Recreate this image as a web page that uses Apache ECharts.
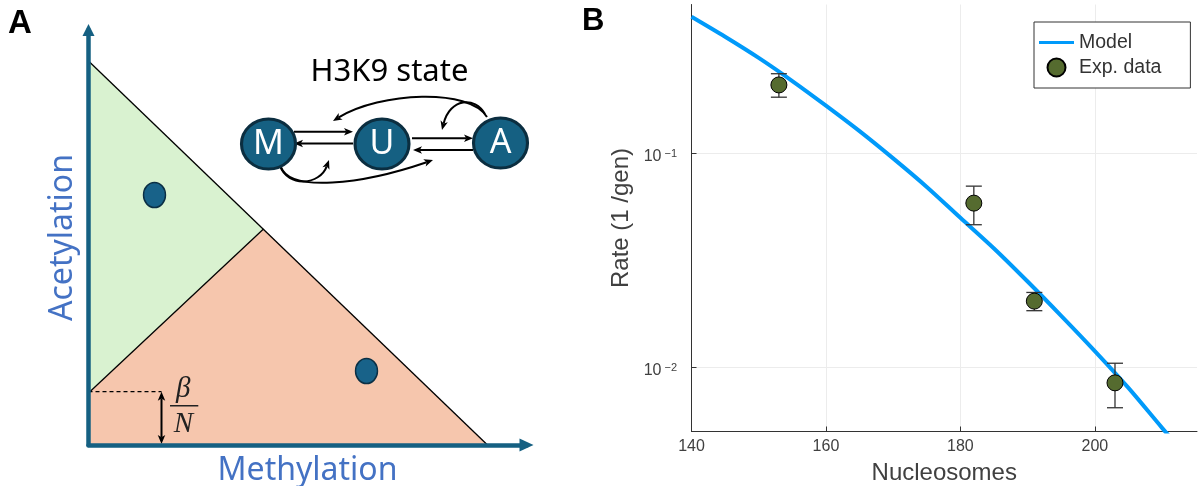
<!DOCTYPE html>
<html><head><meta charset="utf-8">
<script src="https://cdn.jsdelivr.net/npm/echarts@6/dist/echarts.min.js"></script>
<style>html,body{margin:0;padding:0;background:#fff}#c{width:1198px;height:486px}</style>
</head><body><div id="c"></div><script>
// ---------- Panel B data ----------
const nucleosomes = [153, 182, 191, 203];
const expRate = [0.210, 0.0587, 0.0204, 0.00845];
const expLow = [0.184, 0.0465, 0.0184, 0.00646];
const expHigh = [0.237, 0.0705, 0.0224, 0.01044];
const modelX = [140, 145, 150, 155, 160, 165, 170, 175, 180, 185, 190, 195, 200, 205, 210, 212];
const modelY = [0.438, 0.353, 0.281, 0.219, 0.168, 0.1276, 0.0951, 0.0699, 0.0501, 0.036, 0.0252, 0.0174, 0.0119, 0.0080, 0.0052, 0.0044];
const xTicks = [140, 160, 180, 200];
const yTicks = [0.01, 0.1];
const yTickExponents = ['\u22122', '\u22121'];

// ---------- Panel A schematic data (schematic units) ----------
const greenRegion = [[0, 384], [175, 216], [0, 52]];
const orangeRegion = [[0, 52], [175, 216], [399, 0], [0, 0]];
const boundaryLine = [[0, 384], [399, 0]];
const dividerLine = [[0, 52], [175, 216]];
const thresholdLine = [[0, 53.3], [73, 53.3]];
const fractionBar = [[81.5, 39.3], [109.8, 39.3]];
const fixedPoints = [[66, 250], [278, 74]];
const nodeNames = ['M', 'U', 'A'];
const nodePos = [[180, 301], [293.5, 301], [412, 302]];
const arrowPaths = [
  [205.5, 313.3, 205.5, 313.3, 205.5, 313.3, 264.5, 313.3],
  [264.5, 301.5, 264.5, 301.5, 264.5, 301.5, 205.5, 301.5],
  [323.5, 306.7, 323.5, 306.7, 323.5, 306.7, 384.5, 306.7],
  [384.5, 295, 384.5, 295, 384.5, 295, 324.5, 295],
  [398.5, 328, 381.5, 357, 291.5, 353, 244.5, 324],
  [396.5, 331, 386.5, 349, 361.5, 347, 353.5, 315],
  [191.5, 279, 199.5, 257, 231.5, 260, 240.5, 285],
  [192.5, 278, 201.5, 253, 271.5, 260, 344.5, 285],
  [73, 27, 73, 27, 73, 27, 73, 53.3],
  [73, 27, 73, 27, 73, 27, 73, 1]
];
const textLabels = [
  { text: 'H3K9 state', pos: [301, 373] }
];
const fracLabels = [
  { text: '\u03b2', pos: [94.8, 56] },
  { text: 'N', pos: [94.8, 20.5] }
];

const SANS_A = '"Noto Sans", sans-serif';
const SANS_B = '"Liberation Sans", Arial, sans-serif';
const TEAL = '#156082';

function regionRenderer(vertices, color) {
  return function (params, api) {
    if (params.dataIndex !== 0) return;
    return { type: 'polygon', shape: { points: vertices.map(v => api.coord(v)) }, style: { fill: color } };
  };
}

function renderArrow(params, api) {
  const a = arrowPaths[params.dataIndex];
  const p = [0, 1, 2, 3].map(k => api.coord([a[2 * k], a[2 * k + 1]]));
  let dx = p[3][0] - p[2][0], dy = p[3][1] - p[2][1];
  if (Math.hypot(dx, dy) < 1e-6) { dx = p[3][0] - p[0][0]; dy = p[3][1] - p[0][1]; }
  const L = Math.hypot(dx, dy); dx /= L; dy /= L;
  const len = 9, w = 7.5;
  const nx = -dy, ny = dx;
  const tip = p[3];
  const bx = tip[0] - dx * len, by = tip[1] - dy * len;
  const nX = tip[0] - dx * len * 0.75, nY = tip[1] - dy * len * 0.75;
  return {
    type: 'group', children: [
      { type: 'bezierCurve', shape: { x1: p[0][0], y1: p[0][1], cpx1: p[1][0], cpy1: p[1][1], cpx2: p[2][0], cpy2: p[2][1], x2: nX, y2: nY },
        style: { stroke: '#000', lineWidth: 2, fill: 'none' } },
      { type: 'polygon', shape: { points: [[tip[0], tip[1]], [bx + nx * w / 2, by + ny * w / 2], [nX, nY], [bx - nx * w / 2, by - ny * w / 2]] },
        style: { fill: '#000' } }
    ]
  };
}

function renderErrorBar(params, api) {
  const x = api.value(0);
  const lo = api.coord([x, api.value(1)]);
  const hi = api.coord([x, api.value(2)]);
  const hw = 8;
  const st = { stroke: '#333', lineWidth: 1.3 };
  return {
    type: 'group', children: [
      { type: 'line', shape: { x1: lo[0], y1: lo[1], x2: hi[0], y2: hi[1] }, style: st },
      { type: 'line', shape: { x1: lo[0] - hw, y1: lo[1], x2: lo[0] + hw, y2: lo[1] }, style: st },
      { type: 'line', shape: { x1: hi[0] - hw, y1: hi[1], x2: hi[0] + hw, y2: hi[1] }, style: st }
    ]
  };
}

const chart = echarts.init(document.getElementById('c'));
const option = {
  animation: false,
  backgroundColor: '#fff',
  graphic: [
    { type: 'text', x: 8, y: 24, style: { text: 'A', fill: '#000', font: 'bold 33px "Liberation Sans", Arial', verticalAlign: 'middle', align: 'left' } },
    { type: 'text', x: 582, y: 21, style: { text: 'B', fill: '#000', font: 'bold 31px "Liberation Sans", Arial', verticalAlign: 'middle', align: 'left' } }
  ],
  grid: [
    { left: 88.5, top: 30, width: 438, height: 415, outerBoundsMode: 'none', containLabel: false },
    { left: 691.5, top: 4.5, width: 505.5, height: 427, outerBoundsMode: 'none', containLabel: false }
  ],
  legend: {
    left: 1034, top: 22, orient: 'vertical',
    itemWidth: 35, itemHeight: 18, itemGap: 5,
    padding: [10.5, 29, 10.5, 5],
    borderColor: '#333', borderWidth: 1, backgroundColor: '#fff',
    textStyle: { fontSize: 19.5, color: '#333', fontFamily: SANS_B },
    data: [
      { name: 'Model', icon: 'path://M0,0H35V3H0Z' },
      { name: 'Exp. data', icon: 'circle' }
    ]
  },
  xAxis: [
    {
      gridIndex: 0, type: 'value', min: 0, max: 438, z: 10,
      axisLine: { show: true, onZero: false, symbol: ['none', 'triangle'], symbolSize: [13, 14], lineStyle: { color: TEAL, width: 4.5 } },
      axisTick: { show: false }, axisLabel: { show: false }, splitLine: { show: false },
      name: 'Methylation', nameLocation: 'middle', nameGap: 10,
      nameTextStyle: { color: '#4472C4', fontSize: 32, fontFamily: SANS_A }
    },
    {
      gridIndex: 1, type: 'value', min: 140, max: 215.2,
      axisLine: { show: true, onZero: false, lineStyle: { color: '#333', width: 1 } },
      axisTick: { show: true, inside: true, length: 5, customValues: xTicks, lineStyle: { color: '#333' } },
      axisLabel: { show: true, customValues: xTicks, margin: 7, fontSize: 16, color: '#404040', fontFamily: SANS_B },
      splitLine: { show: true, lineStyle: { color: '#ececec', width: 1 } },
      name: 'Nucleosomes', nameLocation: 'middle', nameGap: 30,
      nameTextStyle: { color: '#404040', fontSize: 24, fontFamily: SANS_B }
    }
  ],
  yAxis: [
    {
      gridIndex: 0, type: 'value', min: 0, max: 415, z: 10,
      axisLine: { show: true, onZero: false, symbol: ['none', 'triangle'], symbolSize: [12, 12], lineStyle: { color: TEAL, width: 4.5 } },
      axisTick: { show: false }, axisLabel: { show: false }, splitLine: { show: false },
      name: 'Acetylation', nameLocation: 'middle', nameGap: 10,
      nameTextStyle: { color: '#4472C4', fontSize: 32, fontFamily: SANS_A }
    },
    {
      gridIndex: 1, type: 'log', logBase: 10, min: 0.005, max: 0.5,
      axisLine: { show: true, onZero: false, lineStyle: { color: '#333', width: 1 } },
      axisTick: { show: true, inside: true, length: 5, customValues: yTicks, lineStyle: { color: '#333' } },
      axisLabel: {
        show: true, customValues: yTicks, margin: 14.5, padding: [6, 0, 0, 0],
        formatter: function (v) {
          const i = yTicks.findIndex(t => Math.abs(t - v) / t < 1e-6);
          return i < 0 ? '' : '{b|10}{s|' + yTickExponents[i] + '}';
        },
        rich: {
          b: { fontSize: 16, lineHeight: 16, color: '#404040', fontFamily: SANS_B },
          s: { fontSize: 11, lineHeight: 9, verticalAlign: 'top', color: '#404040', fontFamily: SANS_B, padding: [0, 0, 0, 3] }
        }
      },
      splitLine: { show: true, lineStyle: { color: '#ececec', width: 1 } },
      name: 'Rate (1 /gen)', nameLocation: 'middle', nameGap: 58,
      nameTextStyle: { color: '#404040', fontSize: 24, fontFamily: SANS_B }
    }
  ],
  series: [
    // ---- Panel A ----
    { type: 'custom', xAxisIndex: 0, yAxisIndex: 0, z: 1, silent: true, data: greenRegion, renderItem: regionRenderer(greenRegion, '#d9f2d0') },
    { type: 'custom', xAxisIndex: 0, yAxisIndex: 0, z: 1, silent: true, data: orangeRegion, renderItem: regionRenderer(orangeRegion, '#f6c6ad') },
    { type: 'line', xAxisIndex: 0, yAxisIndex: 0, z: 2, data: boundaryLine, symbol: 'none', lineStyle: { color: '#000', width: 1.3 } },
    { type: 'line', xAxisIndex: 0, yAxisIndex: 0, z: 2, data: dividerLine, symbol: 'none', lineStyle: { color: '#000', width: 1.3 } },
    { type: 'line', xAxisIndex: 0, yAxisIndex: 0, z: 2, data: thresholdLine, symbol: 'none', lineStyle: { color: '#000', width: 1.2, type: [4, 3] } },
    { type: 'line', xAxisIndex: 0, yAxisIndex: 0, z: 2, data: fractionBar, symbol: 'none', lineStyle: { color: '#222', width: 1.5 } },
    { type: 'scatter', xAxisIndex: 0, yAxisIndex: 0, z: 3, data: fixedPoints, symbol: 'circle', symbolSize: [22, 25],
      itemStyle: { color: '#186289', borderColor: '#0b2f44', borderWidth: 1.5, opacity: 1 } },
    { type: 'custom', xAxisIndex: 0, yAxisIndex: 0, z: 3, silent: true, data: arrowPaths, renderItem: renderArrow },
    { type: 'scatter', xAxisIndex: 0, yAxisIndex: 0, z: 4, data: nodePos, symbol: 'circle', symbolSize: [54, 50],
      itemStyle: { color: TEAL, borderColor: '#0b2e40', borderWidth: 3, opacity: 1 },
      label: { show: true, position: 'inside', formatter: p => nodeNames[p.dataIndex], color: '#fff', fontSize: 34, fontFamily: SANS_A } },
    { type: 'scatter', xAxisIndex: 0, yAxisIndex: 0, z: 4, data: textLabels.map(t => t.pos), symbolSize: 1,
      itemStyle: { color: 'rgba(0,0,0,0)', opacity: 1 },
      label: { show: true, position: 'inside', formatter: p => textLabels[p.dataIndex].text, color: '#000', fontSize: 31, fontFamily: SANS_A } },
    { type: 'scatter', xAxisIndex: 0, yAxisIndex: 0, z: 4, data: fracLabels.map(t => t.pos), symbolSize: 1,
      itemStyle: { color: 'rgba(0,0,0,0)', opacity: 1 },
      label: { show: true, position: 'inside', formatter: p => fracLabels[p.dataIndex].text, color: '#222', fontSize: 29, fontStyle: 'italic', fontFamily: '"Liberation Serif", "DejaVu Serif", serif' } },
    // ---- Panel B ----
    { name: 'Model', type: 'line', xAxisIndex: 1, yAxisIndex: 1, z: 2, clip: true,
      data: modelX.map((x, i) => [x, modelY[i]]), symbol: 'none', smooth: 0.3,
      itemStyle: { color: '#009AFA' }, lineStyle: { color: '#009AFA', width: 4 } },
    { name: 'errorbars', type: 'custom', xAxisIndex: 1, yAxisIndex: 1, z: 3, silent: true,
      data: nucleosomes.map((x, i) => [x, expLow[i], expHigh[i]]), encode: { x: 0, y: [1, 2] }, renderItem: renderErrorBar },
    { name: 'Exp. data', type: 'scatter', xAxisIndex: 1, yAxisIndex: 1, z: 4,
      data: nucleosomes.map((x, i) => [x, expRate[i]]), symbol: 'circle', symbolSize: 16,
      itemStyle: { color: '#556B2F', borderColor: '#000', borderWidth: 1, opacity: 1 } }
  ]
};
chart.setOption(option);
</script></body></html>
